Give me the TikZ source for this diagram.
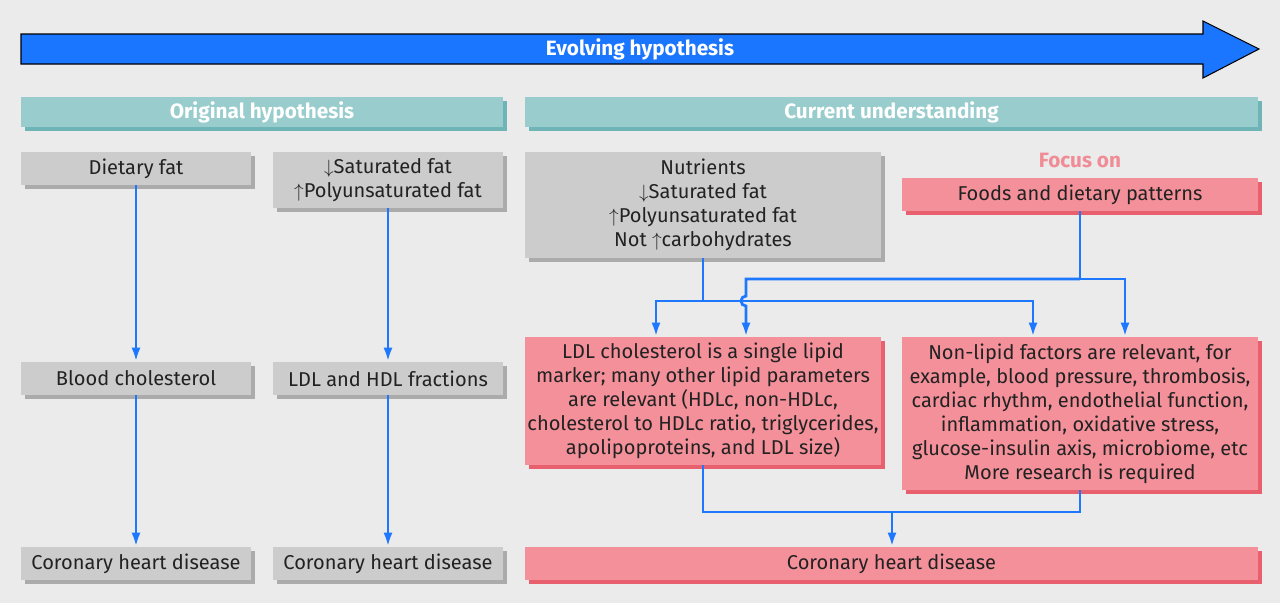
\documentclass[tikz,border=0pt]{standalone}
\usepackage{fontspec}
\setmainfont{Fira Sans}
\usepackage{tikz}
\usetikzlibrary{arrows.meta,shadows,calc,positioning}

\definecolor{bg}{HTML}{EBEBEB}
\definecolor{arrowblue}{HTML}{1A75FF}
\definecolor{flowblue}{HTML}{1E78FF}
\definecolor{teal}{HTML}{99CCCC}
\definecolor{tealshade}{HTML}{6FB4B6}
\definecolor{greybox}{HTML}{CCCCCC}
\definecolor{greyshade}{HTML}{ABABAB}
\definecolor{pinkbox}{HTML}{F4909A}
\definecolor{pinkshade}{HTML}{E8606E}
\definecolor{focuspink}{HTML}{F08C96}
\definecolor{textgray}{HTML}{222222}

\begin{document}
\begin{tikzpicture}[x=0.02cm, y=-0.02cm]
		\tikzstyle{Box}		= [rectangle, inner sep=0pt, align=center, text=textgray, font=\fontsize{11.4}{13.7}\selectfont]
		\tikzstyle{Grey}	= [Box, fill=greybox, drop shadow={shadow xshift=0.08cm, shadow yshift=-0.08cm, fill=greyshade, opacity=1}]
		\tikzstyle{Pink}	= [Box, fill=pinkbox, drop shadow={shadow xshift=0.08cm, shadow yshift=-0.08cm, fill=pinkshade, opacity=1}]
		\tikzstyle{Header}	= [Box, fill=teal, text=white, font=\fontsize{11.8}{13.7}\selectfont\bfseries, minimum height=0.6cm, drop shadow={shadow xshift=0.08cm, shadow yshift=-0.08cm, fill=tealshade, opacity=1}]
		\tikzstyle{Narrow}	= [minimum width=4.62cm, minimum height=0.66cm]
		\tikzstyle{Wide}	= [minimum width=7.12cm]
		\tikzstyle{Flow}	= [flowblue, line width=1.6pt]
		\tikzstyle{Tip}		= [-{Latex[length=2.8mm, width=1.8mm]}]
		
		\fill [bg] (0,0) rectangle (1280,603);
		\useasboundingbox (0,0) rectangle (1280,603);
		
		% evolving arrow
		\draw [black, line width=0.6pt, fill=arrowblue] (21,34) -- (1203,34) -- (1203,21) -- (1259,49) -- (1203,78) -- (1203,64) -- (21,64) -- cycle;
		\node (evolve) at (640,49) [text=white, font=\fontsize{11.8}{13.7}\selectfont\bfseries] {Evolving hypothesis};
		
		% headers
		\node (orig) at (262,112) [Header, minimum width=9.64cm] {Original hypothesis};
		\node (curr) at (891.5,112) [Header, minimum width=14.66cm] {Current understanding};
		
		% original hypothesis
		\node (diet) at (136,168.5) [Grey][Narrow] {Dietary fat};
		\node (satfat) at (388,180) [Grey][Narrow, minimum width=4.6cm, minimum height=1.12cm] {$\downarrow$Saturated fat\\$\uparrow$Polyunsaturated fat};
		\node (blood) at (136,378.5) [Grey][Narrow] {Blood cholesterol};
		\node (ldlhdl) at (388,378.5) [Grey][Narrow, minimum width=4.6cm] {LDL and HDL fractions};
		\node (chdA) at (136,563.5) [Grey][Narrow] {Coronary heart disease};
		\node (chdB) at (388,563.5) [Grey][Narrow, minimum width=4.6cm] {Coronary heart disease};
		
		% current understanding
		\node (nutr) at (703,205) [Grey][Wide, minimum height=2.12cm] {Nutrients\\$\downarrow$Saturated fat\\$\uparrow$Polyunsaturated fat\\Not $\uparrow$carbohydrates};
		\node (focus) at (1080,160) [text=focuspink, font=\fontsize{11.8}{13.7}\selectfont\bfseries] {Focus on};
		\node (foods) at (1080,194.5) [Pink][Wide, minimum height=0.66cm] {Foods and dietary patterns};
		\node (ldl) at (703,401) [Pink][Wide, minimum height=2.56cm] {LDL cholesterol is a single lipid\\marker; many other lipid parameters\\are relevant (HDLc, non-HDLc,\\cholesterol to HDLc ratio, triglycerides,\\apolipoproteins, and LDL size)};
		\node (nonlip) at (1080,413.5) [Pink][Wide, minimum height=3.06cm] {Non-lipid factors are relevant, for\\example, blood pressure, thrombosis,\\cardiac rhythm, endothelial function,\\inflammation, oxidative stress,\\glucose-insulin axis, microbiome, etc\\More research is required};
		\node (chdC) at (891.5,563.5) [Pink][minimum width=14.66cm, minimum height=0.66cm] {Coronary heart disease};
		
		\coordinate (jA) at (703,301);
		\coordinate (jB) at (1080,279);
		\coordinate (jC) at (892,512);
		
		\draw [Flow, Tip] (diet) to (blood);
		\draw [Flow, Tip] (blood) to (chdA);
		\draw [Flow, Tip] (satfat) to (ldlhdl);
		\draw [Flow, Tip] (ldlhdl) to (chdB);
		
		\draw [Flow] (nutr.south) -- (jA);
		\draw [Flow, Tip] (jA) -| ($(ldl.north)+(-47,0)$);
		\draw [Flow, Tip] (jA) -| ($(nonlip.north)+(-47,0)$);
		\draw [Flow] (foods.south) -- (jB);
		\draw [Flow, Tip] (jB) -| ($(nonlip.north)+(45,0)$);
		\draw [Flow, Tip] (jB) -| (746,296) arc [start angle=90, end angle=270, radius=0.1cm] -- ($(ldl.north)+(43,0)$);
		
		\draw [Flow] (ldl.south) |- (jC) -| (nonlip.south);
		\draw [Flow, Tip] (jC) -- (jC |- chdC.north);
	\end{tikzpicture}
\end{document}
